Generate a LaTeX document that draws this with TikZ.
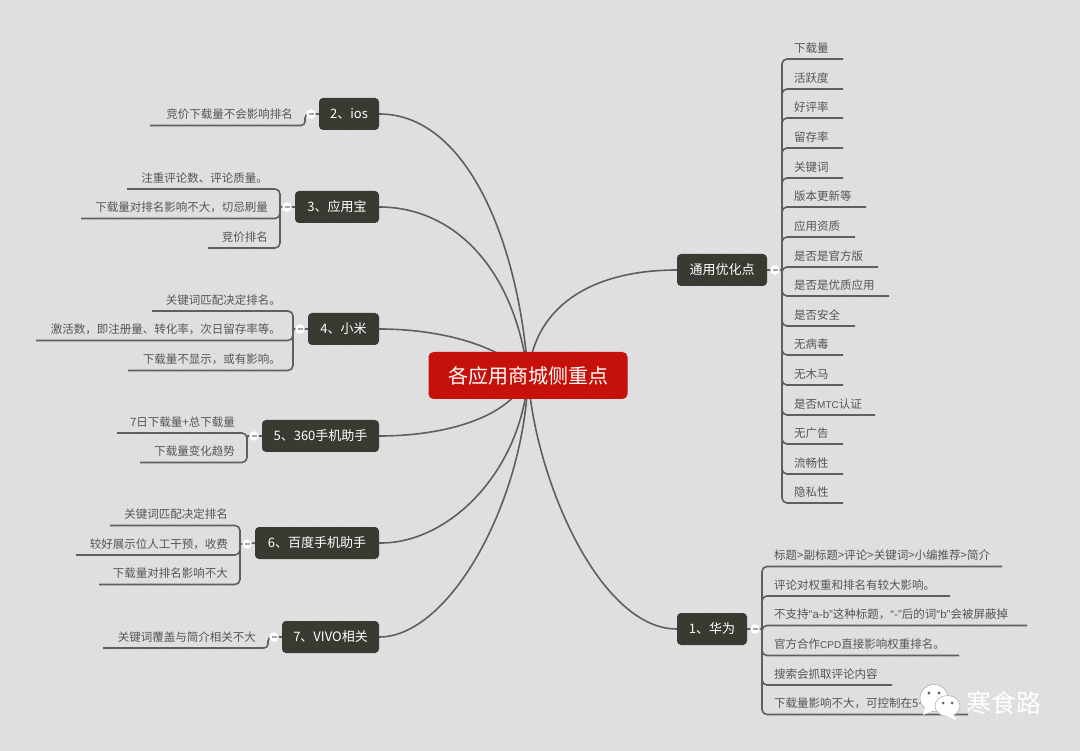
\documentclass[tikz,border=0pt]{standalone}
\usepackage{fontspec}
\setmainfont{Noto Sans CJK SC}
\newfontfamily\latf{Liberation Sans}
\usetikzlibrary{backgrounds}
\definecolor{bgc}{HTML}{DEDEDE}
\definecolor{stripec}{HTML}{E2E2E2}
\definecolor{linec}{HTML}{5F5F5F}
\definecolor{leaftxt}{HTML}{555555}
\definecolor{topicc}{HTML}{3A3A32}
\definecolor{rootc}{HTML}{C5110A}
\tikzset{
  rootbox/.style={fill=rootc,text=white,rounded corners=5pt,minimum width=199pt,minimum height=47pt,inner sep=0pt,font=\fontsize{20}{24}\selectfont},
  topic/.style={fill=topicc,text=white,rounded corners=4pt,minimum height=32pt,inner sep=0pt,font=\fontsize{13}{16}\selectfont},
  leaftext/.style={text=leaftxt,inner sep=0pt,font=\fontsize{11.5}{14}\selectfont},
  toggle/.style={circle,fill=white,minimum size=9.5pt,inner sep=0pt},
  conn/.style={draw=linec,line width=1.6pt,rounded corners=5pt},
  curve/.style={draw=linec,line width=1.6pt},
  tick/.style={draw=gray!70,line width=1.2pt}
}
\newcommand{\lat}[1]{{\latf #1}}
\newcommand{\capsl}[1]{{\latf\fontsize{10}{14}\selectfont #1}}
% name, toggle, vertical x, underline y, underline end x, text
\newcommand{\leafR}[6]{%
  \node[leaftext,anchor=west] (#1) at (#3+12,#4-11) {#6};
  \coordinate (#1e) at (#5,#4);
  \coordinate (#1v) at (#3,#4);
  \begin{pgfonlayer}{background}
    \draw[conn] (#2.center -| #1v) -- (#1v) -- (#1e);
    \draw[curve] (#2.center) -- (#2.center -| #1v);
  \end{pgfonlayer}}
\newcommand{\leafL}[6]{%
  \node[leaftext,anchor=east] (#1) at (#3-12,#4-11) {#6};
  \coordinate (#1e) at (#5,#4);
  \coordinate (#1v) at (#3,#4);
  \begin{pgfonlayer}{background}
    \draw[conn] (#2.center -| #1v) -- (#1v) -- (#1e);
    \draw[curve] (#2.center) -- (#2.center -| #1v);
  \end{pgfonlayer}}
% a single leaf: the stem itself bends in an S
\newcommand{\leafS}[6]{%
  \node[leaftext,anchor=east] (#1) at (#3-12,#4-11) {#6};
  \coordinate (#1e) at (#5,#4);
  \coordinate (#1v) at (#3,#4);
  \begin{pgfonlayer}{background}
    \draw[conn,rounded corners=4pt] (#2.center) -- (#2.center -| #1v) -- (#1v) -- (#1e);
  \end{pgfonlayer}}
\newcommand{\togglemark}[1]{\draw[tick] ([xshift=-2.5pt]#1.center) -- ([xshift=2.5pt]#1.center);}
\begin{document}
\begin{tikzpicture}[x=1pt,y=-1pt]
\useasboundingbox (0,0) rectangle (1080,751);
% root and topics
\node[rootbox] (root) at (528,375.5) {各应用商城侧重点};
\node[topic,minimum width=90pt] (tg) at (722,270) {通用优化点};
\node[topic,minimum width=70pt] (t1) at (712,629) {1、华为};
\node[topic,minimum width=60pt] (t2) at (349,114) {2、ios};
\node[topic,minimum width=84pt] (t3) at (337,207) {3、应用宝};
\node[topic,minimum width=71pt] (t4) at (343.5,329) {4、小米};
\node[topic,minimum width=117pt] (t5) at (320.5,436) {5、360手机助手};
\node[topic,minimum width=124pt] (t6) at (317,543) {6、百度手机助手};
\node[topic,minimum width=97pt] (t7) at (330.5,637) {7、VIVO相关};
% toggles
\node[toggle] (cg) at (775,270) {};
\node[toggle] (c1) at (755,629) {};
\node[toggle] (c2) at (311,114) {};
\node[toggle] (c3) at (287,207) {};
\node[toggle] (c4) at (300,329) {};
\node[toggle] (c5) at (254,436) {};
\node[toggle] (c6) at (247,544) {};
\node[toggle] (c7) at (274,637) {};
\foreach \c in {cg,c1,c2,c3,c4,c5,c6,c7} {\togglemark{\c}}
\begin{pgfonlayer}{background}
  \fill[bgc] (0,0) rectangle (1080,751);
  \begin{scope}
    \clip (0,0) rectangle (1080,751);
    \foreach \i in {0,6,...,1836} {\draw[stripec,line width=1.2pt] (\i,0) -- (\i-751,751);}
  \end{scope}
  \draw[curve] (t2.east) .. controls (470,114) and (520,250) .. (root.center);
  \draw[curve] (t3.east) .. controls (455,207) and (515,270) .. (root.center);
  \draw[curve] (t4.east) .. controls (440,329) and (500,345) .. (root.center);
  \draw[curve] (t5.east) .. controls (440,436) and (510,420) .. (root.center);
  \draw[curve] (t6.east) .. controls (450,544) and (522,470) .. (root.center);
  \draw[curve] (t7.east) .. controls (450,637) and (525,500) .. (root.center);
  \draw[curve] (tg.west) .. controls (600,270) and (535,300) .. (root.center);
  \draw[curve] (t1.west) .. controls (600,629) and (535,480) .. (root.center);
  \draw[curve] (tg.east) -- (cg.center);
  \draw[curve] (t1.east) -- (c1.center);
  \draw[curve] (t2.west) -- (c2.center);
  \draw[curve] (t3.west) -- (c3.center);
  \draw[curve] (t4.west) -- (c4.center);
  \draw[curve] (t5.west) -- (c5.center);
  \draw[curve] (t6.west) -- (c6.center);
  \draw[curve] (t7.west) -- (c7.center);
\end{pgfonlayer}
% general leaves
\leafR{ga}{cg}{782}{59}{843}{下载量}
\leafR{gb}{cg}{782}{89}{843}{活跃度}
\leafR{gc}{cg}{782}{118}{843}{好评率}
\leafR{gd}{cg}{782}{148}{843}{留存率}
\leafR{ge}{cg}{782}{178}{843}{关键词}
\leafR{gf}{cg}{782}{207}{866}{版本更新等}
\leafR{gg}{cg}{782}{237}{855}{应用资质}
\leafR{gh}{cg}{782}{267}{878}{是否是官方版}
\leafR{gi}{cg}{782}{296}{889}{是否是优质应用}
\leafR{gj}{cg}{782}{326}{855}{是否安全}
\leafR{gk}{cg}{782}{355}{843}{无病毒}
\leafR{gl}{cg}{782}{385}{843}{无木马}
\leafR{gm}{cg}{782}{415}{875}{是否\capsl{MTC}认证}
\leafR{gn}{cg}{782}{444}{843}{无广告}
\leafR{go}{cg}{782}{474}{843}{流畅性}
\leafR{gp}{cg}{782}{503}{843}{隐私性}
% huawei
\leafR{ha}{c1}{762}{566.5}{1002}{标题>副标题>评论>关键词>小编推荐>简介}
\leafR{hb}{c1}{762}{596}{950}{评论对权重和排名有较大影响。}
\leafR{hc}{c1}{762}{625.5}{1027}{不支持\lat{“a-b”}这种标题，\lat{“-”}后的词\lat{“b”}会被屏蔽掉}
\leafR{hd}{c1}{762}{655.5}{959}{官方合作\capsl{CPD}直接影响权重排名。}
\leafR{he}{c1}{762}{685}{892}{搜索会抓取评论内容}
\leafR{hf}{c1}{762}{714.5}{968}{下载量影响不大，可控制在5\lat{\~{}}}
% left
\leafS{ia}{c2}{305}{125.5}{150}{竞价下载量不会影响排名}
\leafL{ya}{c3}{280}{189}{127}{注重评论数、评论质量。}
\leafL{yb}{c3}{280}{218.5}{81}{下载量对排名影响不大，切忌刷量}
\leafL{yc}{c3}{280}{248}{208}{竞价排名}
\leafL{xa}{c4}{293}{311}{152}{关键词匹配决定排名。}
\leafL{xb}{c4}{293}{340.5}{36}{激活数，即注册量、转化率，次日留存率等。}
\leafL{xc}{c4}{293}{370.5}{128}{下载量不显示，或有影响。}
\leafL{sa}{c5}{247}{433}{117}{7日下载量+总下载量}
\leafL{sb}{c5}{247}{462.5}{140}{下载量变化趋势}
\leafL{ba}{c6}{240}{525.5}{110}{关键词匹配决定排名}
\leafL{bb}{c6}{240}{555}{76}{较好展示位人工干预，收费}
\leafL{bc}{c6}{240}{584.5}{99}{下载量对排名影响不大}
\leafS{va}{c7}{268}{648}{103}{关键词覆盖与简介相关不大}
% watermark
\fill[white,draw=gray!70,line width=0.5pt] (934,698) ellipse (14pt and 13.5pt);
\fill[white] (925,708) -- (923,715) -- (932,711) -- cycle;
\fill[gray!80!black] (929,693) circle (1.6pt) (939,693) circle (1.6pt);
\fill[white,draw=gray!70,line width=0.5pt] (947.5,706) ellipse (12.5pt and 10.5pt);
\fill[white] (953,714) -- (956,720) -- (946,716) -- cycle;
\fill[gray!80!black] (943,703) circle (1.5pt) (952,703) circle (1.5pt);
\node[text=white,inner sep=0pt,font=\fontsize{25}{30}\selectfont] (wm) at (1004,703) {寒食路};
\end{tikzpicture}
\end{document}
